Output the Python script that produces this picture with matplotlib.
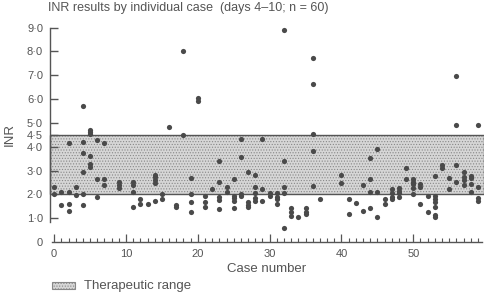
import matplotlib
matplotlib.use("Agg")
import matplotlib.pyplot as plt
from matplotlib.patches import Rectangle

plt.rcParams['font.family'] = ['Liberation Sans', 'DejaVu Sans']
plt.rcParams['hatch.linewidth'] = 0.5

# INR readings, one entry per result: case number and INR value
case_no = [0, 0,
           1, 1,
           2, 2, 2, 2,
           3, 3,
           4, 4, 4, 4, 4, 4,
           5, 5, 5, 5, 5, 5,
           6, 6, 6,
           7, 7, 7,
           9, 9, 9,
           11, 11, 11, 11,
           12, 12,
           13,
           14, 14, 14, 14, 14,
           15, 15,
           16,
           17, 17,
           18, 18,
           19, 19, 19, 19,
           20, 20,
           21, 21, 21,
           22,
           23, 23, 23, 23, 23,
           24, 24,
           25, 25, 25, 25, 25,
           26, 26, 26, 26,
           27, 27, 27, 27,
           28, 28, 28, 28, 28,
           29, 29, 29,
           30, 30,
           31, 31, 31, 31,
           32, 32, 32, 32, 32,
           33, 33, 33,
           34,
           35, 35, 35,
           36, 36, 36, 36, 36,
           37,
           40, 40,
           41, 41,
           42,
           43, 43,
           44, 44, 44, 44,
           45, 45, 45,
           46, 46,
           47, 47, 47, 47,
           48, 48, 48, 48,
           49, 49,
           50, 50, 50, 50, 50,
           51, 51, 51,
           52, 52,
           53, 53, 53, 53, 53, 53, 53,
           54, 54,
           55, 55,
           56, 56, 56, 56,
           57, 57, 57, 57,
           58, 58, 58, 58,
           59, 59, 59, 59]

inr = [2.30, 2.03,
       2.09, 1.55,
       4.17, 2.09, 1.61, 1.32,
       2.32, 1.99,
       5.72, 4.20, 3.73, 2.93, 2.03, 1.57,
       4.70, 4.60, 4.52, 3.61, 3.28, 3.16,
       4.30, 2.63, 1.88,
       4.15, 2.63, 2.39,
       2.51, 2.39, 2.27,
       2.51, 2.39, 2.11, 1.48,
       1.82, 1.58,
       1.61,
       2.82, 2.72, 2.61, 2.49, 1.72,
       2.03, 1.80,
       4.83,
       1.57, 1.46,
       8.03, 4.50,
       2.69, 2.03, 1.69, 1.27,
       6.04, 5.92,
       1.93, 1.69, 1.48,
       2.21,
       3.42, 2.54, 1.90, 1.76, 1.39,
       2.32, 2.11,
       2.63, 1.93, 1.83, 1.72, 1.41,
       4.31, 3.59, 2.03, 1.93,
       2.95, 1.69, 1.55, 1.46,
       2.82, 2.32, 2.04, 1.84, 1.72,
       4.32, 2.21, 1.72,
       2.07, 1.93,
       2.04, 1.90, 1.79, 1.58,
       8.91, 3.42, 2.32, 2.04, 0.60,
       1.41, 1.27, 1.09,
       1.06,
       1.41, 1.27, 1.18,
       7.74, 6.64, 4.52, 3.82, 2.37,
       1.82,
       2.83, 2.49,
       1.80, 1.18,
       1.63,
       2.39, 1.32,
       3.52, 2.63, 2.10, 1.41,
       3.89, 2.10, 1.07,
       1.79, 1.60,
       2.21, 2.04, 1.90, 1.79,
       2.25, 2.14, 2.04, 1.90,
       3.10, 2.63,
       2.63, 2.54, 2.44, 2.25, 2.01,
       2.44, 2.32, 1.60,
       1.93, 1.27,
       2.78, 1.93, 1.79, 1.69, 1.48, 1.15, 1.03,
       3.24, 3.10,
       2.68, 2.21,
       6.99, 4.92, 3.24, 2.51,
       2.95, 2.72, 2.61, 2.39,
       2.77, 2.68, 2.44, 2.11,
       4.92, 2.32, 1.84, 1.72]

therapeutic_range = (2.0, 4.5)
y_ticks = [0, 1.0, 2.0, 3.0, 4.0, 4.5, 5.0, 6.0, 7.0, 8.0, 9.0]
x_major = [0, 10, 20, 30, 40, 50]

text_col = '#555555'
line_col = '#555555'
dot_col = '#4a4a4a'

fig = plt.figure(figsize=(4.84, 2.95), dpi=100)
ax = fig.add_axes([50 / 484, 53 / 295, 434 / 484, 216 / 295])
ax.set_xlim(-0.58, 59.85)
ax.set_ylim(0, 9.07)

# shaded therapeutic band with stipple
ax.axhspan(*therapeutic_range, facecolor='#d6d6d6', edgecolor='#888888',
           hatch='......', linewidth=0, zorder=1)
ax.axhspan(*therapeutic_range, fill=False, edgecolor=line_col,
           linewidth=1.0, zorder=2, clip_on=False)

ax.scatter(case_no, inr, s=14, color=dot_col, linewidths=0, zorder=3, clip_on=False)

# axes styling
for side in ['top', 'right']:
    ax.spines[side].set_visible(False)
ax.spines['left'].set_bounds(0.85, 9.0)
ax.spines['bottom'].set_bounds(-0.3, 59.6)
for side in ['left', 'bottom']:
    ax.spines[side].set_color(line_col)
    ax.spines[side].set_linewidth(1.0)

ax.set_yticks(y_ticks)
ax.set_yticklabels(['0' if v == 0 else f'{v:.1f}'.replace('.', '\u00b7') for v in y_ticks])
ax.yaxis.get_major_ticks()[0].tick1line.set_visible(False)
ax.tick_params(axis='y', direction='in', length=6, width=1.0, color=line_col,
               labelsize=8, labelcolor=text_col, pad=5)

ax.set_xticks(x_major)
ax.set_xticks([i for i in range(60) if i % 10 != 0], minor=True)
ax.tick_params(axis='x', which='major', direction='in', length=6, width=0.9,
               color=line_col, labelsize=8, labelcolor=text_col, pad=5)
ax.tick_params(axis='x', which='minor', direction='in', length=3, width=0.8,
               color=line_col)

ax.set_xlabel('Case number', fontsize=9.5, color=text_col, labelpad=3)
ax.set_ylabel('INR', fontsize=9.5, color=text_col, labelpad=8)

fig.text(48 / 484, 1 - 8 / 295, 'INR results by individual case  (days 4\u201310; n = 60)',
         fontsize=9, color=text_col, va='center', ha='left')

# legend key
key = Rectangle((52 / 484, 1 - 289 / 295), 23 / 484, 7 / 295, transform=fig.transFigure,
                facecolor='#d6d6d6', edgecolor='#888888', hatch='......', linewidth=0.8)
fig.patches.append(key)
fig.text(84 / 484, 1 - 285.5 / 295, 'Therapeutic range', fontsize=9.5, color=text_col,
         va='center', ha='left')

fig.savefig('out.png', dpi=100)
